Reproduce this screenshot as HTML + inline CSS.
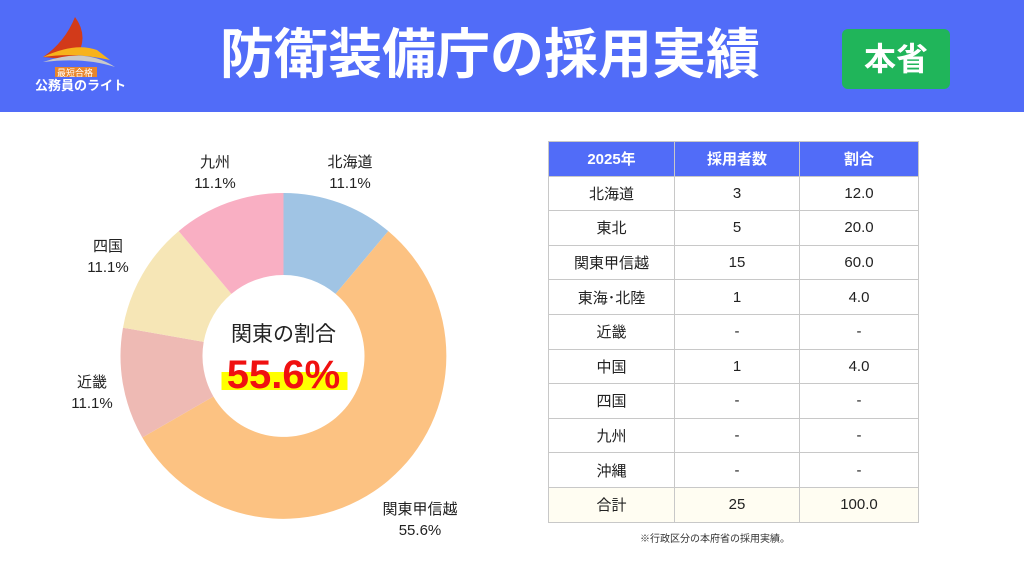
<!DOCTYPE html><html><head><meta charset="utf-8"><style>
body{margin:0;width:1024px;height:576px;background:#fff;font-family:"Liberation Sans","Noto Sans CJK JP",sans-serif;position:relative;overflow:hidden}
.hdr{position:absolute;left:0;top:0;width:1024px;height:112px;background:#516cf8}
.title{position:absolute;left:180px;width:620px;top:22px;text-align:center;color:#fff;font-size:54px;font-weight:bold;line-height:66px}
.badge{position:absolute;left:842px;top:29px;width:108px;height:60px;background:#20b55a;border-radius:6px;color:#fff;font-size:32px;font-weight:bold;text-align:center;line-height:60px}
.lbl{position:absolute;font-size:15px;color:#222;text-align:center;line-height:21px}
table{position:absolute;left:548px;top:141px;border-collapse:collapse;font-size:15px;color:#222}
td,th{border:1px solid #c8c8c8;height:33.6px;padding:0;text-align:center}
th{background:#516cf8;color:#fff;font-weight:bold}
.note{position:absolute;left:640px;top:530px;font-size:10px;color:#333}
</style></head><body>
<div class="hdr"></div>
<svg style="position:absolute;left:35px;top:12px" width="95" height="80">
<path d="M40 48 Q55 25 40 5 Q30 30 8 45 Z" fill="#d23a1a"/>
<path d="M8 45 Q40 30 62 38 L75 48 Q40 40 8 45Z" fill="#f7b21b"/>
<path d="M8 50 Q50 35 80 55 Q50 45 8 50Z" fill="#c9c9c9"/>
<rect x="20" y="55" width="42" height="10" fill="#e8862c"/>
<text x="22" y="64" font-size="9" fill="#fff" font-family="Noto Sans CJK JP">最短合格</text>
<text x="0" y="78" font-size="13" fill="#fff" font-weight="bold" font-family="Noto Sans CJK JP">公務員のライト</text>
</svg>
<div class="title">防衛装備庁の採用実績</div>
<div class="badge">本省</div>
<svg style="position:absolute;left:0;top:0" width="520" height="576">
<g transform="translate(283.5,356)">
<path d="M0 -163 A163 163 0 0 1 104.8 -124.9 L52.1 -62.1 A81 81 0 0 0 0 -81Z" fill="#a0c4e4"/>
<path d="M104.8 -124.9 A163 163 0 1 1 -141.2 81.5 L-70.1 40.5 A81 81 0 1 0 52.1 -62.1Z" fill="#fcc282"/>
<path d="M-141.2 81.5 A163 163 0 0 1 -160.5 -28.3 L-79.8 -14.1 A81 81 0 0 0 -70.1 40.5Z" fill="#eebab4"/>
<path d="M-160.5 -28.3 A163 163 0 0 1 -104.8 -124.9 L-52.1 -62.1 A81 81 0 0 0 -79.8 -14.1Z" fill="#f6e6b6"/>
<path d="M-104.8 -124.9 A163 163 0 0 1 0 -163 L0 -81 A81 81 0 0 0 -52.1 -62.1Z" fill="#f9afc3"/>
<rect x="-62" y="16" width="126" height="18" fill="#ffff00"/>
<text x="0" y="-15" text-anchor="middle" font-size="21" fill="#222" font-family="Noto Sans CJK JP">関東の割合</text>
<text x="0" y="32" text-anchor="middle" font-size="40" font-weight="bold" fill="#f01010" font-family="Liberation Sans">55.6%</text>
</g></svg>
<div class="lbl" style="left:310px;top:152px;width:80px">北海道<br>11.1%</div>
<div class="lbl" style="left:175px;top:152px;width:80px">九州<br>11.1%</div>
<div class="lbl" style="left:68px;top:236px;width:80px">四国<br>11.1%</div>
<div class="lbl" style="left:52px;top:372px;width:80px">近畿<br>11.1%</div>
<div class="lbl" style="left:365px;top:499px;width:110px">関東甲信越<br>55.6%</div>
<table>
<tr><th style="width:125px">2025年</th><th style="width:124px">採用者数</th><th style="width:118px">割合</th></tr>
<tr><td>北海道</td><td>3</td><td>12.0</td></tr>
<tr><td>東北</td><td>5</td><td>20.0</td></tr>
<tr><td>関東甲信越</td><td>15</td><td>60.0</td></tr>
<tr><td>東海･北陸</td><td>1</td><td>4.0</td></tr>
<tr><td>近畿</td><td>-</td><td>-</td></tr>
<tr><td>中国</td><td>1</td><td>4.0</td></tr>
<tr><td>四国</td><td>-</td><td>-</td></tr>
<tr><td>九州</td><td>-</td><td>-</td></tr>
<tr><td>沖縄</td><td>-</td><td>-</td></tr>
<tr style="background:#fffdf2"><td>合計</td><td>25</td><td>100.0</td></tr>
</table>
<div class="note">※行政区分の本府省の採用実績。</div>
</body></html>
